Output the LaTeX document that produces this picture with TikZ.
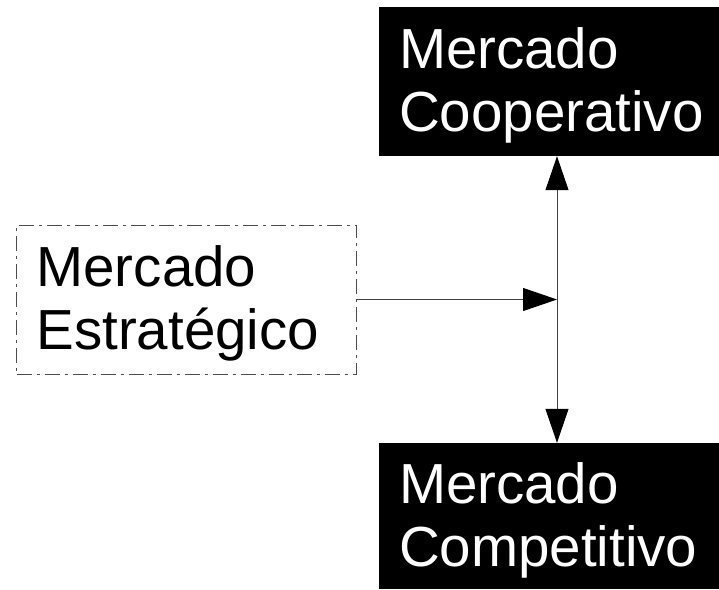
\documentclass[tikz,border=0pt]{standalone}
\usepackage{fontspec}
\setmainfont{Liberation Sans}
\usetikzlibrary{arrows.meta}
\newcommand\bigtext{\fontsize{56.5}{63}\selectfont}
\newcommand\topgap{\rule{0pt}{49.5pt}}

\begin{document}
\begin{tikzpicture}[x=1pt,y=-1pt]

\tikzset{market/.style={rectangle,text width=300pt,inner xsep=20pt,inner ysep=0pt,
                        minimum height=149pt,align=left,font=\bigtext}}
\tikzset{darkbox/.style={market,fill=black,text=white}}
\tikzset{dashbox/.style={market,draw=black!70,line width=0.8pt,
                         dash pattern=on 15pt off 5pt on 3pt off 5pt}}
\tikzset{tip/.tip={Triangle[length=34pt,width=23pt,color=black]}}
\tikzset{link/.style={draw=black!75,line width=1pt,-tip}}

\useasboundingbox (0,0) rectangle (719,589);

\node[darkbox] (coop) at (549,81.5)  {\topgap Mercado\\Cooperativo};
\node[darkbox,minimum height=146pt] (comp) at (549,516) {\topgap Mercado\\Competitivo};
\node[dashbox] (estr) at (186.5,299.5) {\topgap Mercado\\Estratégico};

\coordinate (junc) at (557,299.5);

\draw[link,tip-tip] (junc |- coop.south) -- (junc |- comp.north);
\draw[link] (estr.east) -- (junc);

\end{tikzpicture}
\end{document}
